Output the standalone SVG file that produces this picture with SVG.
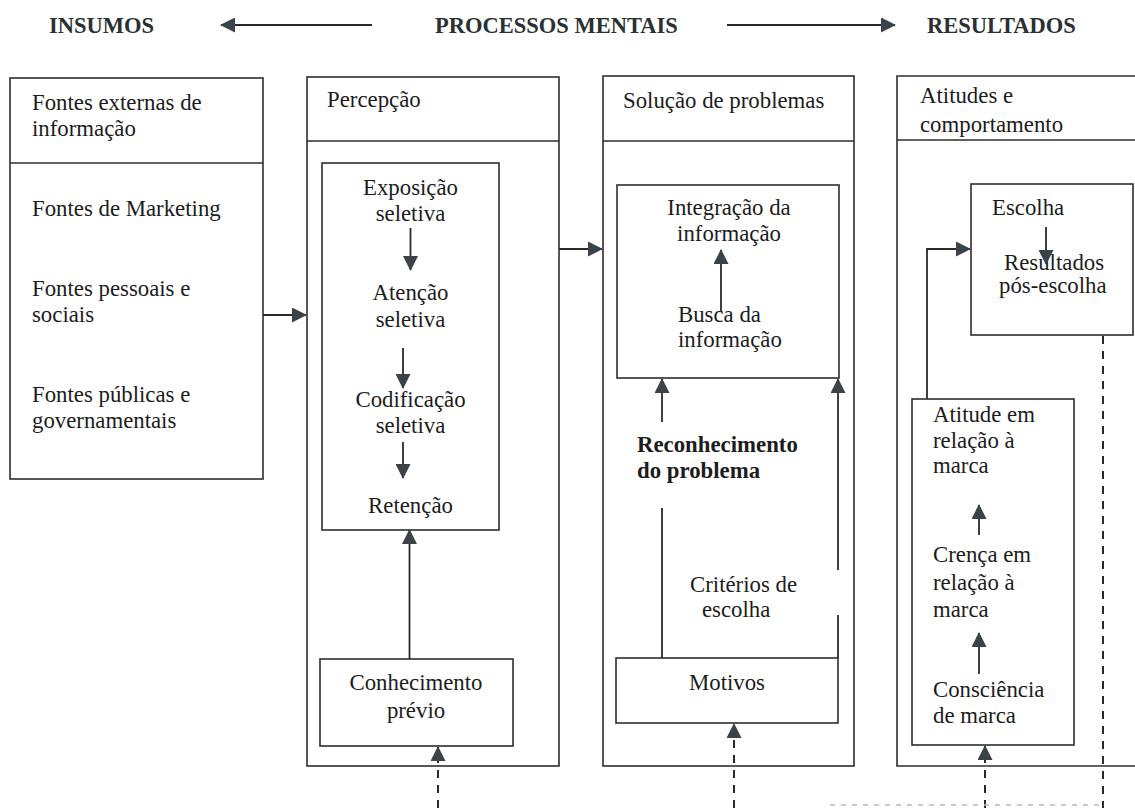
<svg xmlns="http://www.w3.org/2000/svg" width="1135" height="808" viewBox="0 0 1135 808">
  <defs>
    <style>
      text { font-family: "Liberation Serif", "Times New Roman", serif; font-size: 22.8px; fill: #1c1c1c; }
      .hdr { font-weight: bold; font-size: 22.5px; fill: #2a3033; }
      .bold { font-weight: bold; }
      .mid { text-anchor: middle; }
      .box { fill: none; stroke: #2e2e2e; stroke-width: 1.6; }
      .ln { fill: none; stroke: #2a2a2a; stroke-width: 1.8; }
      .dash { fill: none; stroke: #2a2a2a; stroke-width: 2; stroke-dasharray: 8 7; }
      .faint { fill: none; stroke: #b8b8b8; stroke-width: 1.5; stroke-dasharray: 5 6; }
    </style>
    <marker id="ah" markerUnits="userSpaceOnUse" markerWidth="15" markerHeight="15" refX="14" refY="7.5" orient="auto">
      <path d="M0,0 L15,7.5 L0,15 z" fill="#3a4448"/>
    </marker>
  </defs>
  <rect width="1135" height="808" fill="#ffffff"/>

  <!-- top banner -->
  <g id="banner">
    <text class="hdr" x="49" y="33">INSUMOS</text>
    <text class="hdr" x="435" y="33">PROCESSOS MENTAIS</text>
    <text class="hdr" x="927" y="33">RESULTADOS</text>
  </g>

  <!-- column 1: external sources -->
  <g id="fontes">
    <rect class="box" x="10" y="78" width="253" height="401"/>
    <line class="box" x1="10" y1="163" x2="263" y2="163"/>
    <text x="32" y="110">Fontes externas de</text>
    <text x="32" y="136">informação</text>
    <text x="32" y="216">Fontes de Marketing</text>
    <text x="32" y="296">Fontes pessoais e</text>
    <text x="32" y="322">sociais</text>
    <text x="32" y="402">Fontes públicas e</text>
    <text x="32" y="428">governamentais</text>
  </g>

  <!-- column 2: perception -->
  <g id="percepcao">
    <rect class="box" x="307" y="77" width="252" height="689"/>
    <line class="box" x1="307" y1="141" x2="559" y2="141"/>
    <text x="327" y="107">Percepção</text>
  </g>
  <g id="percepcao-seletiva">
    <rect class="box" x="322" y="163" width="177" height="367"/>
    <text class="mid" x="410.5" y="195">Exposição</text>
    <text class="mid" x="410.5" y="221">seletiva</text>
    <text class="mid" x="410.5" y="300">Atenção</text>
    <text class="mid" x="410.5" y="327">seletiva</text>
    <text class="mid" x="410.5" y="407">Codificação</text>
    <text class="mid" x="410.5" y="433">seletiva</text>
    <text class="mid" x="410.5" y="513">Retenção</text>
  </g>
  <g id="conhecimento">
    <rect class="box" x="320" y="659" width="193" height="87"/>
    <text class="mid" x="416" y="690">Conhecimento</text>
    <text class="mid" x="416" y="718">prévio</text>
  </g>

  <!-- column 3: problem solving -->
  <g id="solucao">
    <rect class="box" x="603" y="76" width="251" height="690"/>
    <line class="box" x1="603" y1="141" x2="854" y2="141"/>
    <text x="623" y="108">Solução de problemas</text>
  </g>
  <g id="informacao">
    <rect class="box" x="617" y="185" width="222" height="193"/>
    <text class="mid" x="729" y="215">Integração da</text>
    <text class="mid" x="729" y="241">informação</text>
    <text x="678" y="322">Busca da</text>
    <text x="678" y="347">informação</text>
  </g>
  <g id="reconhecimento">
    <text class="bold" x="637" y="452">Reconhecimento</text>
    <text class="bold" x="637" y="478">do problema</text>
  </g>
  <g id="criterios">
    <text x="690" y="592">Critérios de</text>
    <text x="702" y="617">escolha</text>
  </g>
  <g id="motivos">
    <rect class="box" x="616" y="658" width="222" height="65"/>
    <text class="mid" x="727" y="690">Motivos</text>
  </g>

  <!-- column 4: attitudes and behaviour -->
  <g id="atitudes">
    <path class="box" d="M1140,76 H897 V766 H1140"/>
    <line class="box" x1="897" y1="140" x2="1140" y2="140"/>
    <text x="920" y="103">Atitudes e</text>
    <text x="920" y="132">comportamento</text>
  </g>
  <g id="escolha">
    <rect class="box" x="971" y="184" width="162" height="151"/>
    <text x="992" y="215">Escolha</text>
    <text x="1004" y="270">Resultados</text>
    <text x="999" y="293">pós-escolha</text>
  </g>
  <g id="marca">
    <rect class="box" x="912" y="399" width="162" height="346"/>
    <text x="933" y="422">Atitude em</text>
    <text x="933" y="448">relação à</text>
    <text x="933" y="473">marca</text>
    <text x="933" y="562">Crença em</text>
    <text x="933" y="590">relação à</text>
    <text x="933" y="617">marca</text>
    <text x="933" y="697">Consciência</text>
    <text x="933" y="723">de marca</text>
  </g>

  <!-- connectors -->
  <g id="connectors">
    <!-- banner arrows -->
    <line class="ln" x1="372" y1="25" x2="221" y2="25" marker-end="url(#ah)"/>
    <line class="ln" x1="727" y1="25" x2="895" y2="25" marker-end="url(#ah)"/>

    <!-- between columns -->
    <line class="ln" x1="263" y1="315" x2="306" y2="315" marker-end="url(#ah)"/>
    <line class="ln" x1="559" y1="249" x2="602" y2="249" marker-end="url(#ah)"/>

    <!-- perception chain -->
    <line class="ln" x1="410.5" y1="228" x2="410.5" y2="270" marker-end="url(#ah)"/>
    <line class="ln" x1="403" y1="348" x2="403" y2="388" marker-end="url(#ah)"/>
    <line class="ln" x1="403" y1="442" x2="403" y2="478" marker-end="url(#ah)"/>
    <line class="ln" x1="409.5" y1="659" x2="409.5" y2="530" marker-end="url(#ah)"/>

    <!-- problem solving -->
    <line class="ln" x1="721" y1="312" x2="721" y2="250" marker-end="url(#ah)"/>
    <line class="ln" x1="662" y1="422" x2="662" y2="379" marker-end="url(#ah)"/>
    <line class="ln" x1="662" y1="658" x2="662" y2="508"/>
    <line class="ln" x1="838" y1="570" x2="838" y2="379" marker-end="url(#ah)"/>
    <line class="ln" x1="838" y1="658" x2="838" y2="615"/>

    <!-- attitudes and behaviour -->
    <line class="ln" x1="1046" y1="227" x2="1046" y2="264" marker-end="url(#ah)"/>
    <polyline class="ln" points="927,399 927,249 970,249" marker-end="url(#ah)"/>
    <line class="ln" x1="979" y1="535" x2="979" y2="505" marker-end="url(#ah)"/>
    <line class="ln" x1="979" y1="674" x2="979" y2="633" marker-end="url(#ah)"/>

    <!-- feedback lines from below -->
    <line class="dash" x1="438" y1="808" x2="438" y2="747" marker-end="url(#ah)"/>
    <line class="dash" x1="734" y1="808" x2="734" y2="724" marker-end="url(#ah)"/>
    <line class="dash" x1="985" y1="808" x2="985" y2="746" marker-end="url(#ah)"/>
    <line class="dash" x1="1103" y1="336" x2="1103" y2="808"/>
    <line class="faint" x1="830" y1="805" x2="1102" y2="805"/>
  </g>
</svg>
